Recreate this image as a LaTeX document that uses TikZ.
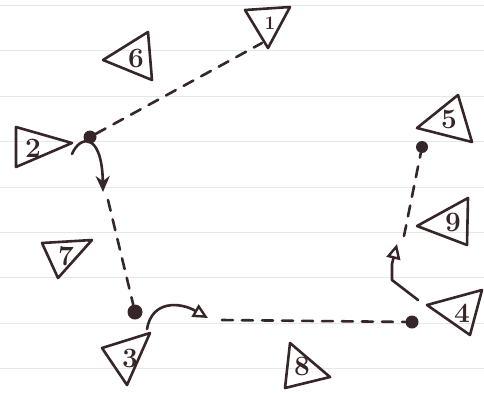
\documentclass[tikz,border=0pt]{standalone}
\usepackage{fontspec}
\usetikzlibrary{arrows.meta}
\definecolor{ink}{RGB}{55,38,40}
\definecolor{paperline}{RGB}{228,231,238}
\begin{document}
\begin{tikzpicture}[x=1pt,y=-1pt,
  pen/.style={draw=ink,line width=2.6pt,line cap=round,line join=round},
  tri/.style={pen},
  lab/.style={text=ink,font=\fontsize{28}{28}\selectfont\bfseries,inner sep=0pt},
  dot/.style={circle,fill=ink,draw=none,inner sep=0pt,minimum size=13pt},
  dashline/.style={pen,dash pattern=on 11pt off 9pt},
  solidarrow/.style={pen,-{Stealth[length=16pt,width=14pt]}},
  openarrow/.style={pen,-{Triangle[open,length=15pt,width=14pt,line width=2.4pt]}}
]
\useasboundingbox (0,0) rectangle (484,392);
\fill[white] (0,0) rectangle (484,392);
% ruled paper lines
\foreach \y in {5,50,96,141,187,232,277,323,368}
  \draw[paperline,line width=0.6pt] (0,\y) -- (484,\y);

% triangles
\draw[tri] (245,10) -- (290,7) -- (268,48) -- cycle;
\node[lab,font=\fontsize{19}{19}\selectfont\bfseries] (l1) at (270,23) {1};
\draw[tri] (103,60) -- (148,32) -- (152,80) -- cycle;
\node[lab] (l6) at (136,58) {6};
\draw[tri] (16,127) -- (72,143) -- (16,167) -- cycle;
\node[lab] (l2) at (33,148) {2};
\draw[tri] (42,243) -- (92,240) -- (58,278) -- cycle;
\node[lab] (l7) at (66,256) {7};
\draw[tri] (102,348) -- (150,333) -- (127,385) -- cycle;
\node[lab] (l3) at (130,358) {3};
\draw[tri] (290,343) -- (330,377) -- (285,388) -- cycle;
\node[lab] (l8) at (302,366) {8};
\draw[tri] (427,305) -- (482,290) -- (470,335) -- cycle;
\node[lab] (l4) at (462,313) {4};
\draw[tri] (417,128) -- (458,95) -- (472,142) -- cycle;
\node[lab] (l5) at (449,119) {5};
\draw[tri] (417,226) -- (468,198) -- (467,245) -- cycle;
\node[lab] (l9) at (453,222) {9};

% dots
\node[dot] (d2) at (90,137) {};
\node[dot,minimum size=15pt] (d3) at (135,312) {};
\node[dot] (d4) at (412,322) {};
\node[dot,minimum size=12pt] (d5) at (422,147) {};

% free ends
\coordinate (e1) at (262,43);
\coordinate (s2) at (72,154);
\coordinate (a2) at (103,192);
\coordinate (b7) at (108,200);
\coordinate (s3) at (147,329);
\coordinate (a3) at (208,318);
\coordinate (b8) at (222,320);
\coordinate (s4) at (418,300);
\coordinate (a4) at (397,244);
\coordinate (b9) at (404,236);

% connectors
\draw[dashline] (d2) -- (e1);
\draw[solidarrow] (s2) .. controls (80,135) and (102,132) .. (a2);
\draw[dashline] (b7) -- (d3);
\draw[openarrow] (s3) .. controls (152,300) and (180,302) .. (a3);
\draw[dashline] (b8) -- (d4);
\draw[openarrow] (s4) -- (392,280) -- (392,264) -- (a4);
\draw[dashline] (b9) -- (d5);
\end{tikzpicture}
\end{document}
